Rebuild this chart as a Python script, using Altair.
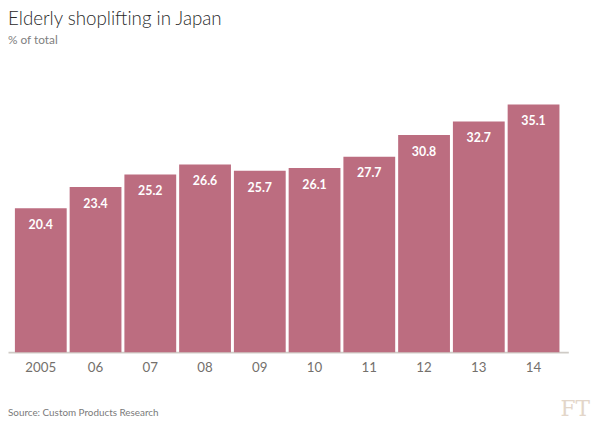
import altair as alt
import pandas as pd

years = ["2005", "06", "07", "08", "09", "10", "11", "12", "13", "14"]
values = [20.4, 23.4, 25.2, 26.6, 25.7, 26.1, 27.7, 30.8, 32.7, 35.1]
labels = ["20.4", "23.4", "25.2", "26.6", "25.7", "26.1", "27.7", "30.8", "32.7", "35.1"]

title_text = "Elderly shoplifting in Japan"
subtitle_text = "% of total"
source_text = "Source: Custom Products Research"
logo_text = "FT"

df = pd.DataFrame({"year": years, "value": values, "label": labels})

FONT = "Lato"
BAR = "#bc6d80"

x = alt.X(
    "year:N",
    sort=years,
    title=None,
    scale=alt.Scale(paddingInner=0.054, paddingOuter=0.144, align=0.4375),
    axis=alt.Axis(
        labelAngle=0,
        ticks=False,
        domainColor="#cfcbc6",
        domainWidth=2,
        labelColor="#74706c",
        labelFontSize=13.5,
        labelFont=FONT,
        labelFontWeight=400,
        labelPadding=9,
        grid=False,
    ),
)
y = alt.Y(
    "value:Q",
    scale=alt.Scale(domain=[0, 40], nice=False),
    axis=None,
)

bars = alt.Chart(df).mark_bar(color=BAR).encode(x=x, y=y)
text = alt.Chart(df).mark_text(
    color="white", fontWeight="bold", fontSize=12.5, font=FONT, baseline="middle", dy=17
).encode(x=alt.X("year:N", sort=years), y="value:Q", text="label:N")

def label(s, xv, yv, size, color, align="left", font=FONT, weight="normal"):
    return alt.Chart(pd.DataFrame({"t": [s]})).mark_text(
        align=align, baseline="alphabetic", fontSize=size, color=color, font=font, fontWeight=weight
    ).encode(x=alt.value(xv), y=alt.value(yv), text="t:N")

title = label(title_text, 0, -46, 19, "#2a2a2a", weight=300)
subtitle = label(subtitle_text, 0, -26, 12, "#808080", weight=400)
source = label(source_text, 0, 351, 10, "#7a7a7a", weight=400)
logo = label(logo_text, 590, 351, 22, "#e3d6c9", align="right", font="DejaVu Serif")

chart = alt.layer(bars, text, title, subtitle, source, logo).properties(
    width=568,
    height=286,
    autosize=alt.AutoSizeParams(type="none"),
    padding={"left": 0, "top": 60, "right": 24, "bottom": 70},
    background="white",
).configure_view(stroke=None)

chart.save("out.html", embed_options={"renderer": "svg", "actions": False})
